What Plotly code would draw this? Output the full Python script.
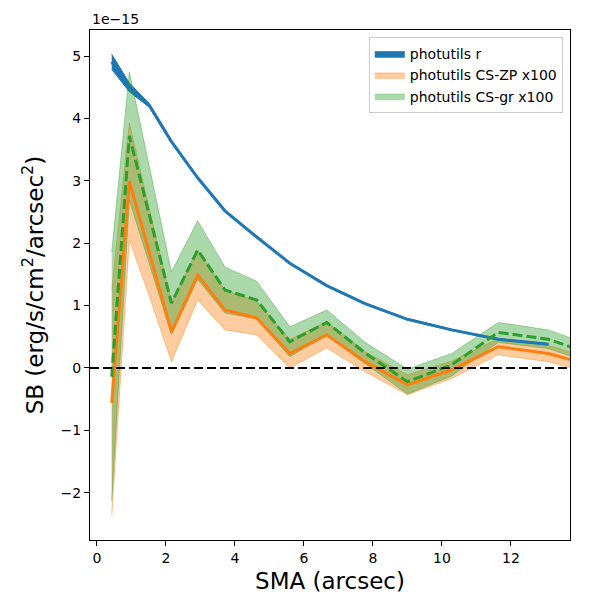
import plotly.graph_objects as go

# semi-major axis (arcsec)
sma = [0.43, 0.94, 1.52, 2.16, 2.92, 3.71, 4.63, 5.59, 6.66, 7.77, 9.00, 10.28, 11.63, 13.08, 14.60]

# surface brightness, units of 1e-15 erg/s/cm^2/arcsec^2
r_sb = [4.91, 4.50, 4.21, 3.63, 3.05, 2.52, 2.10, 1.68, 1.32, 1.03, 0.78, 0.61, 0.46, 0.38]
r_err = [0.12, 0.07, 0.03, 0.02, 0.015, 0.012, 0.01, 0.01, 0.01, 0.01, 0.01, 0.01, 0.01, 0.01]

zp_sb = [-0.56, 2.99, 1.85, 0.58, 1.49, 0.93, 0.80, 0.23, 0.53, 0.10, -0.27, -0.03, 0.34, 0.23, 0.00]
zp_err = [1.82, 0.94, 0.70, 0.48, 0.40, 0.32, 0.27, 0.23, 0.21, 0.16, 0.16, 0.14, 0.13, 0.13, 0.12]

gr_sb = [-0.14, 3.72, 2.45, 1.04, 1.89, 1.25, 1.09, 0.42, 0.73, 0.24, -0.22, 0.05, 0.57, 0.46, 0.17]
gr_err = [2.00, 1.03, 0.78, 0.50, 0.47, 0.37, 0.30, 0.24, 0.20, 0.17, 0.20, 0.18, 0.16, 0.15, 0.14]

BLUE = "#1f77b4"
ORANGE = "#ff7f0e"
GREEN = "#2ca02c"


def band(x, y, err, fill, edge, name):
    xs = list(x) + list(x)[::-1]
    up = [v + e for v, e in zip(y, err)]
    lo = [v - e for v, e in zip(y, err)]
    ys = up + lo[::-1]
    return go.Scatter(x=xs, y=ys, fill="toself", fillcolor=fill,
                      line=dict(color=edge, width=1), mode="lines",
                      name=name, hoverinfo="skip")


fig = go.Figure()
x_r = sma[:len(r_sb)]
fig.add_trace(band(x_r, r_sb, r_err, BLUE, BLUE, "photutils r"))
fig.add_trace(band(sma, zp_sb, zp_err, "rgba(255,127,14,0.4)", "rgba(255,127,14,0.4)",
                   "photutils CS-ZP x100"))
fig.add_trace(band(sma, gr_sb, gr_err, "rgba(44,160,44,0.4)", "rgba(44,160,44,0.4)",
                   "photutils CS-gr x100"))

fig.add_trace(go.Scatter(x=x_r, y=r_sb, mode="lines", line=dict(color=BLUE, width=3),
                         showlegend=False))
fig.add_trace(go.Scatter(x=sma, y=zp_sb, mode="lines", line=dict(color=ORANGE, width=3),
                         showlegend=False))
fig.add_trace(go.Scatter(x=sma, y=gr_sb, mode="lines",
                         line=dict(color=GREEN, width=3, dash="10px,4px"),
                         showlegend=False))

fig.add_hline(y=0, line=dict(color="black", width=2, dash="9px,4px"))

axis_common = dict(showline=True, mirror=True, linecolor="black", linewidth=1,
                   ticks="outside", ticklen=5, tickcolor="black", showgrid=False,
                   zeroline=False, automargin=False,
                   tickfont=dict(size=14, color="black"))

# page body adds an 8px margin, so the figure is a little smaller than the window
fig.update_layout(
    width=592, height=592,
    margin=dict(l=82, r=30, t=22, b=60),
    plot_bgcolor="white", paper_bgcolor="white",
    font=dict(family="DejaVu Sans", color="black"),
    xaxis=dict(range=[-0.2, 13.71], dtick=2,
               title=dict(text="SMA (arcsec)", font=dict(size=23), standoff=8),
               **axis_common),
    yaxis=dict(range=[-2.76, 5.42], dtick=1,
               title=dict(text="SB (erg/s/cm<sup>2</sup>/arcsec<sup>2</sup>)",
                          font=dict(size=23), standoff=10),
               **axis_common),
    legend=dict(x=0.985, y=0.986, xanchor="right", yanchor="top",
                bgcolor="rgba(255,255,255,0.8)", bordercolor="#cccccc", borderwidth=1,
                font=dict(size=14)),
    showlegend=True,
)

fig.add_annotation(text="1e\u221215", xref="paper", yref="paper", x=0, y=1.0,
                   xanchor="left", yanchor="bottom", showarrow=False,
                   font=dict(size=14, color="black"), yshift=1)

fig.write_html("out.html")
